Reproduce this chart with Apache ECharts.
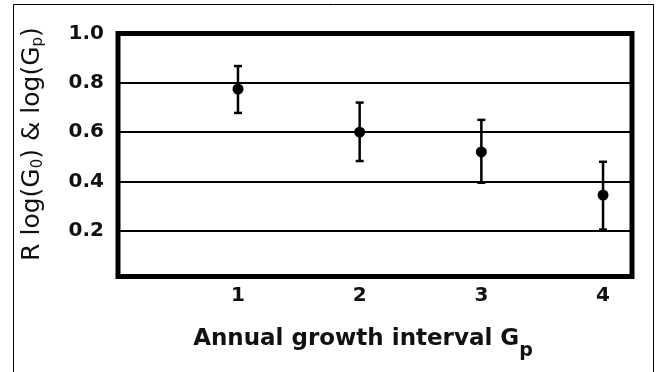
<!DOCTYPE html>
<html>
<head>
<meta charset="utf-8">
<script src="https://cdn.jsdelivr.net/npm/echarts@6/dist/echarts.min.js"></script>
<style>
  html, body { margin: 0; padding: 0; background: #fff; }
  #chart { width: 657px; height: 372px; }
</style>
</head>
<body>
<div id="chart"></div>
<script>
// ---- data ----
const categories = [1, 2, 3, 4];
const meanValues = [0.775, 0.600, 0.520, 0.345];
const upperValues = [0.868, 0.720, 0.650, 0.480];
const lowerValues = [0.678, 0.483, 0.395, 0.205];
const xTickLabels = [1, 2, 3, 4];
const yTickLabels = [0.2, 0.4, 0.6, 0.8, 1.0];

const FONT = '"DejaVu Sans", "Liberation Sans", sans-serif';

const pointData = categories.map((c, i) => [c, meanValues[i]]);
const barData = categories.map((c, i) => [c, lowerValues[i], upperValues[i]]);

const chart = echarts.init(document.getElementById('chart'), null, { renderer: 'canvas' });

function near(list, v) {
  return list.some(t => Math.abs(t - v) < 1e-6);
}

chart.setOption({
  animation: false,
  backgroundColor: '#fff',
  graphic: [{
    type: 'rect',
    shape: { x: 13.5, y: 4.5, width: 640, height: 380 },
    style: { fill: 'none', stroke: '#000', lineWidth: 1 },
    silent: true
  }],
  grid: {
    left: 118, right: 25, top: 33.5, bottom: 95.5,
    show: true, borderColor: '#000', borderWidth: 5, backgroundColor: 'transparent'
  },
  xAxis: {
    type: 'value',
    min: 0.014, max: 4.238,
    axisLine: { show: false },
    axisTick: { show: false },
    splitLine: { show: false },
    axisLabel: {
      margin: 9,
      fontFamily: FONT, fontWeight: 'bold', fontSize: 20, color: '#111',
      showMinLabel: false, showMaxLabel: false,
      formatter: v => near(xTickLabels, v) ? String(Math.round(v)) : ''
    },
    name: 'Annual growth interval G{sub|p}',
    nameLocation: 'middle',
    nameGap: 50,
    nameTextStyle: {
      fontFamily: FONT, fontWeight: 'bold', fontSize: 23, color: '#111',
      lineHeight: 26,
      padding: [0, 24, 0, 0],
      rich: {
        sub: { fontFamily: FONT, fontWeight: 'bold', fontSize: 19, color: '#111', verticalAlign: 'bottom', lineHeight: 14, padding: [0, 0, -8, 0] }
      }
    }
  },
  yAxis: {
    type: 'value',
    min: 0.015, max: 1.0,
    axisLine: { show: false },
    axisTick: { show: false },
    splitLine: { show: true, lineStyle: { color: '#000', width: 2 } },
    axisLabel: {
      margin: 14,
      fontFamily: FONT, fontWeight: 'bold', fontSize: 20, color: '#111',
      showMinLabel: false,
      formatter: v => near(yTickLabels, v) ? v.toFixed(1) : ''
    },
    name: 'R log(G{sub|0}) & log(G{sub|p})',
    nameLocation: 'middle',
    nameRotate: 90,
    nameGap: 72,
    nameTextStyle: {
      fontFamily: FONT, fontSize: 25, color: '#111',
      lineHeight: 27,
      padding: [0, 0, 0, 22],
      rich: {
        sub: { fontFamily: FONT, fontSize: 15, color: '#111', verticalAlign: 'bottom', lineHeight: 15 }
      }
    }
  },
  series: [
    {
      type: 'custom',
      data: barData,
      renderItem: function (params, api) {
        const x = api.value(0);
        const lo = api.coord([x, api.value(1)]);
        const hi = api.coord([x, api.value(2)]);
        const cap = 4;
        const style = { stroke: '#000', lineWidth: 2.5 };
        return {
          type: 'group',
          children: [
            { type: 'line', shape: { x1: lo[0], y1: lo[1], x2: hi[0], y2: hi[1] }, style: style },
            { type: 'line', shape: { x1: hi[0] - cap, y1: hi[1], x2: hi[0] + cap, y2: hi[1] }, style: style },
            { type: 'line', shape: { x1: lo[0] - cap, y1: lo[1], x2: lo[0] + cap, y2: lo[1] }, style: style }
          ]
        };
      },
      z: 3
    },
    {
      type: 'scatter',
      data: pointData,
      symbol: 'circle',
      symbolSize: 11,
      itemStyle: { color: '#000', opacity: 1 },
      z: 4
    }
  ]
});
</script>
</body>
</html>
